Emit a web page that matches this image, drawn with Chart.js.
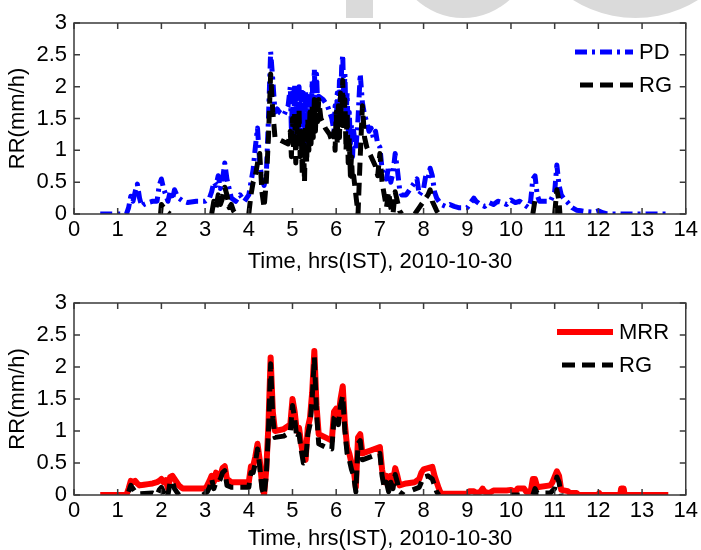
<!DOCTYPE html>
<html>
<head>
<meta charset="utf-8">
<script src="https://cdn.jsdelivr.net/npm/chart.js@4.4.1/dist/chart.umd.min.js"></script>
<style>
  body { margin: 0; background: #fff; }
  #page { position: relative; width: 701px; height: 550px; overflow: hidden; }
  .mark { position: absolute; background: #dadada; }
  .panel { position: absolute; left: 0; width: 701px; height: 275px; }
</style>
</head>
<body>
<div id="page">
  <!-- faint watermark shapes at the top edge -->
  <div class="mark" style="left:346px;top:0;width:27px;height:18px"></div>
  <div class="mark" style="left:394px;top:-120px;width:138px;height:138px;border-radius:50%"></div>
  <div class="mark" style="left:518px;top:-217px;width:235px;height:235px;border-radius:50%"></div>
  <div class="panel" style="top:0"><canvas id="topChart" width="701" height="275"></canvas></div>
  <div class="panel" style="top:275px"><canvas id="bottomChart" width="701" height="275"></canvas></div>
</div>
<script>
// --- 1. Data (time in hrs IST, rain rate in mm/h) ---
const xTitle = "Time, hrs(IST), 2010-10-30";
const yTitle = "RR(mm/h)";

// top panel: PD
const pdTime = [
  0.6,1.2,1.25,1.3,1.35,1.4,1.45,1.5,1.55,1.6,
  1.7,1.8,1.9,1.95,2.0,2.05,2.1,2.15,2.2,2.25,
  2.3,2.35,2.4,2.5,2.6,2.8,3.0,3.1,3.15,3.2,
  3.25,3.3,3.35,3.4,3.45,3.5,3.55,3.6,3.7,3.8,
  3.9,4.0,4.05,4.1,4.15,4.2,4.25,4.3,4.35,4.4,
  4.45,4.5,4.55,4.6,4.65,4.7,4.8,4.9,
  4.95,4.975,5.0,5.025,5.05,5.075,5.1,5.125,5.15,5.175,
  5.2,5.225,5.25,5.275,5.3,5.325,5.35,5.375,5.4,5.425,
  5.45,5.475,5.5,5.525,5.55,5.575,5.6,
  5.7,5.8,5.9,
  5.95,5.975,6.0,6.025,6.05,6.075,6.1,6.125,6.15,6.175,
  6.2,6.225,6.25,6.275,6.3,6.325,6.35,6.375,6.4,
  6.45,6.5,6.55,6.6,6.65,
  6.7,6.75,6.8,6.85,6.9,6.95,7.0,7.05,7.1,7.15,
  7.2,7.25,7.3,7.35,7.4,7.45,7.5,7.6,7.7,7.8,
  7.85,7.9,8.0,8.05,8.1,8.15,8.2,8.25,8.3,8.35,
  8.4,8.5,8.6,8.7,8.8,9.0,9.05,9.1,9.15,9.2,
  9.3,9.4,9.5,9.6,9.7,9.8,9.9,10.0,10.1,10.2,
  10.3,10.4,10.45,10.5,10.55,10.6,10.65,10.8,10.9,11.0,
  11.05,11.1,11.15,11.2,11.3,11.4,11.5,11.6,11.7,11.9,
  12.0,12.1,12.2,12.5,13.0,13.6
];
const pdRate = [
  0,0,0.1,0.28,0.2,0.35,0.47,0.25,0.12,0.15,
  0.18,0.2,0.2,0.45,0.55,0.4,0.3,0.2,0.35,0.22,
  0.38,0.3,0.25,0.2,0.18,0.2,0.2,0.25,0.35,0.5,
  0.45,0.6,0.4,0.55,0.8,0.55,0.4,0.25,0.2,0.3,
  0.2,0.3,0.5,0.7,1.05,1.35,0.8,0.55,0.45,0.6,
  1.5,2.55,2.1,1.6,1.65,1.6,1.55,1.7,
  2.0,1.3,1.9,1.1,2.05,1.5,1.95,1.2,2.0,1.6,
  1.95,1.3,1.9,1.0,1.95,1.2,1.85,1.1,1.8,1.4,
  2.1,1.6,2.28,1.7,2.2,1.75,1.85,
  1.8,1.7,1.5,
  1.3,1.7,1.4,1.9,1.5,2.1,1.6,2.3,2.5,1.8,
  2.2,1.5,1.9,1.3,1.6,1.1,1.4,0.9,1.3,
  1.0,1.5,2.2,1.75,1.55,
  1.45,1.3,1.35,1.2,1.3,1.1,1.05,0.7,0.6,0.55,
  0.75,0.5,0.65,0.95,0.7,0.4,0.3,0.3,0.4,0.5,
  0.55,0.3,0.4,0.6,0.55,0.72,0.6,0.35,0.25,0.2,
  0.15,0.12,0.15,0.12,0.1,0.1,0.15,0.2,0.25,0.2,
  0.15,0.12,0.18,0.15,0.2,0.18,0.15,0.22,0.18,0.2,
  0.15,0.1,0.2,0.55,0.6,0.3,0.2,0.2,0.2,0.35,
  0.77,0.45,0.3,0.25,0.18,0.1,0.06,0.05,0.04,0.03,
  0.05,0.02,0,0,0,0
];

// top panel: RG (null = no gauge trace drawn)
const rgTopTime = [
  0.6,1.95,1.98,2.0,2.05,2.1,2.2,2.25,3.1,3.15,
  3.2,3.25,3.3,3.35,3.4,3.45,3.5,3.55,3.6,3.65,
  3.7,3.8,4.0,4.05,4.1,4.15,4.2,4.25,4.3,4.35,
  4.4,4.45,4.5,4.55,4.6,4.75,4.9,
  4.95,4.975,5.0,5.025,5.05,5.075,5.1,5.125,5.15,5.175,
  5.2,5.225,5.25,5.275,5.3,5.325,5.35,5.375,5.4,5.425,
  5.45,5.475,5.5,5.525,5.55,5.575,5.6,
  5.65,5.75,5.85,5.9,
  5.95,5.975,6.0,6.025,6.05,6.075,6.1,6.125,6.15,6.175,
  6.2,6.225,6.25,6.275,6.3,6.325,6.35,6.375,6.4,
  6.45,6.5,6.55,6.6,6.65,
  6.7,6.8,6.9,6.95,7.0,7.05,7.1,7.15,7.2,7.25,
  7.3,7.35,7.4,7.45,7.5,7.6,7.8,7.9,8.0,8.1,
  8.15,8.2,8.3,8.35,8.4,10.5,10.55,10.6,10.65,11.0,
  11.05,11.1,11.12,11.2
];
const rgTopRate = [
  null,null,0,0.15,0.1,0.05,0,null,null,0,
  0.2,0.1,0.3,0.15,0.25,0.42,0.3,0.1,0.15,0.05,
  0,null,0,0.3,0.5,0.6,0.8,0.95,0.35,0.1,
  0.5,1.2,2.2,1.6,1.2,1.15,1.1,
  1.3,0.9,1.5,1.0,1.6,0.8,1.4,1.1,1.65,0.9,
  1.3,0.6,1.2,0.5,1.4,0.8,1.5,1.0,1.6,1.1,
  1.7,1.2,1.8,1.3,1.75,1.45,1.8,
  1.5,1.35,1.25,1.15,
  1.3,1.0,1.6,1.1,1.7,1.2,1.9,1.4,2.1,1.3,
  1.8,1.0,1.6,0.8,1.2,0.6,0.9,0.5,0.6,
  0.3,0,0.9,1.7,1.2,
  1.05,0.9,0.75,0.6,0.95,0.5,0.3,0.1,0.35,0.1,
  0,0.35,0.2,0.05,0,null,0,0.1,0.2,0.3,
  0.38,0.2,0.05,0,null,0,0.22,0.15,null,0,
  0.38,0.2,0,null
];

// bottom panel: MRR
const mrrTime = [
  0.6,1.2,1.25,1.3,1.35,1.4,1.45,1.5,1.6,1.7,
  1.8,1.9,1.95,2.0,2.05,2.1,2.15,2.2,2.25,2.3,
  2.35,2.4,2.45,2.5,3.0,3.05,3.1,3.15,3.2,3.25,
  3.3,3.35,3.4,3.45,3.5,3.6,3.8,4.0,4.05,4.1,
  4.15,4.2,4.25,4.3,4.35,4.4,4.45,4.5,4.55,4.6,
  4.8,4.95,5.0,5.05,5.1,5.15,5.2,5.25,5.3,5.35,
  5.4,5.45,5.5,5.55,5.6,5.75,5.9,5.95,6.0,6.05,
  6.1,6.15,6.2,6.25,6.3,6.35,6.4,6.45,6.5,6.55,
  6.6,6.8,7.0,7.05,7.1,7.15,7.2,7.25,7.3,7.35,
  7.4,7.45,7.6,7.8,7.9,7.95,8.0,8.1,8.2,8.25,
  8.35,8.4,9.0,9.05,9.15,9.2,9.3,9.35,9.4,9.5,
  9.6,9.9,10.0,10.1,10.15,10.3,10.35,10.45,10.5,10.55,
  10.6,10.9,10.95,11.05,11.1,11.15,11.3,11.35,11.5,11.55,
  12.0,12.02,12.05,12.5,12.52,12.58,12.6,13.6
];
const mrrRate = [
  0,0,0.1,0.22,0.2,0.22,0.18,0.15,0.16,0.17,
  0.18,0.2,0.22,0.25,0.2,0.23,0.1,0.28,0.3,0.25,
  0.2,0.15,0.12,0.1,0.1,0.15,0.22,0.3,0.2,0.35,
  0.25,0.3,0.42,0.45,0.25,0.2,0.2,0.2,0.45,0.45,
  0.6,0.8,0.55,0.2,0,0.4,1.1,2.15,1.3,1.0,
  1.03,1.1,1.5,1.3,1.0,1.05,0.8,0.6,0.55,1.05,
  1.2,1.6,2.25,1.4,0.95,0.9,0.85,1.3,1.35,1.2,
  1.5,1.7,1.1,0.75,0.65,0.5,0.4,0.12,0.9,0.95,
  0.65,0.7,0.75,0.4,0.2,0.3,0.15,0.3,0.2,0.42,
  0.3,0.15,0.18,0.2,0.25,0.35,0.4,0.42,0.44,0.3,
  0.1,0.02,0.02,0.06,0.06,0.03,0.05,0.1,0.05,0.03,
  0.07,0.07,0.08,0.04,0.1,0.1,0.05,0.05,0.25,0.25,
  0.12,0.15,0.2,0.37,0.3,0.08,0.06,0.03,0.03,0,
  0,0.03,0,0,0.1,0.1,0,0
];

// bottom panel: RG
const rgBotTime = [
  1.25,1.3,1.35,1.4,1.5,1.8,1.9,1.95,2.0,2.05,
  2.1,2.15,2.2,2.25,2.3,2.35,2.4,2.5,2.95,3.05,
  3.1,3.15,3.2,3.25,3.3,3.35,3.4,3.45,3.5,3.6,
  4.0,4.05,4.1,4.15,4.2,4.25,4.3,4.35,4.4,4.45,
  4.5,4.55,4.6,4.8,4.95,5.0,5.05,5.1,5.15,5.2,
  5.25,5.3,5.35,5.4,5.45,5.5,5.55,5.6,5.75,5.9,
  5.95,6.0,6.05,6.1,6.15,6.2,6.25,6.3,6.35,6.4,
  6.45,6.5,6.55,6.6,6.8,7.0,7.05,7.1,7.15,7.2,
  7.25,7.3,7.35,7.4,7.45,7.55,7.6,7.75,7.9,7.95,
  8.0,8.1,8.2,8.25,8.3,8.35,8.4,10.0,10.2,10.3,
  10.5,10.55,10.6,10.9,11.0,11.05,11.1,11.15,11.2
];
const rgBotRate = [
  0.05,0.15,0.1,0.05,0.02,0.03,0,0.08,0.12,0.05,
  0.1,0,0.2,0.22,0.1,0.05,0,null,0,0.05,
  0.12,0.25,0.1,0.2,0.2,0.25,0.35,0.38,0.15,0.12,
  0.12,0.35,0.35,0.5,0.72,0.45,0.1,0,0.3,1.0,
  2.05,1.2,0.9,0.92,0.98,1.4,1.2,0.88,0.95,0.7,
  0.5,0.52,0.95,1.1,1.5,2.15,1.3,0.8,0.75,0.72,
  1.2,1.25,1.1,1.4,1.55,1.0,0.65,0.55,0.4,0.3,
  0.05,0.8,0.85,0.55,0.6,0.65,0.3,0.12,0.2,0.05,
  0.2,0.1,0.32,0.2,0.05,0,null,0.08,0.12,0.2,
  0.28,0.3,0.25,0.15,0.05,0,null,0,0,null,
  0,0.1,0.03,0.03,0.1,0.28,0.2,0,null
];

// --- 2. Helpers ---
const FONT = "'Liberation Sans', Arial, sans-serif";
Chart.defaults.font.family = FONT;
Chart.defaults.color = "#000";

const toPoints = (xs, ys) => xs.map((t, i) => ({ x: t, y: ys[i] }));

// frame on all four sides with inward ticks (MATLAB style box)
const boxTicks = {
  id: "boxTicks",
  afterDraw(chart) {
    const { ctx, chartArea: a, scales } = chart;
    ctx.save();
    ctx.strokeStyle = "#3a3a3a";
    ctx.lineWidth = 1.5;
    ctx.strokeRect(a.left, a.top, a.right - a.left, a.bottom - a.top);
    ctx.beginPath();
    scales.x.ticks.forEach(t => {
      const px = scales.x.getPixelForValue(t.value);
      ctx.moveTo(px, a.bottom); ctx.lineTo(px, a.bottom - 6);
      ctx.moveTo(px, a.top); ctx.lineTo(px, a.top + 6);
    });
    scales.y.ticks.forEach(t => {
      const py = scales.y.getPixelForValue(t.value);
      ctx.moveTo(a.left, py); ctx.lineTo(a.left + 6, py);
      ctx.moveTo(a.right, py); ctx.lineTo(a.right - 6, py);
    });
    ctx.stroke();
    ctx.restore();
  }
};

// legend drawn inside the plot box, upper right
const boxLegend = {
  id: "boxLegend",
  afterDraw(chart, args, opts) {
    const ctx = chart.ctx;
    ctx.save();
    ctx.font = "22px " + FONT;
    ctx.textBaseline = "middle";
    ctx.fillStyle = "#000";
    (opts.items || []).forEach(it => {
      ctx.strokeStyle = it.color;
      ctx.lineWidth = it.width;
      ctx.setLineDash(it.dash);
      ctx.beginPath();
      ctx.moveTo(it.x1, it.y);
      ctx.lineTo(it.x2, it.y);
      ctx.stroke();
      ctx.setLineDash([]);
      ctx.fillText(it.label, it.tx, it.y + 1);
    });
    ctx.restore();
  }
};

function buildOptions(padTop, xHeight, titlePad, legendItems) {
  return {
    responsive: false,
    animation: false,
    devicePixelRatio: 1,
    layout: { padding: { top: padTop, right: 13, left: 0, bottom: 0 } },
    plugins: {
      legend: { display: false },
      tooltip: { enabled: false },
      boxLegend: { items: legendItems }
    },
    elements: {
      point: { radius: 0 },
      line: { tension: 0, borderJoinStyle: "round", borderCapStyle: "butt" }
    },
    scales: {
      x: {
        type: "linear", min: 0, max: 14,
        grid: { display: false, drawTicks: false }, border: { display: false },
        ticks: { stepSize: 1, autoSkip: false, maxRotation: 0, padding: 3, font: { size: 22 } },
        title: { display: true, text: xTitle, font: { size: 22, lineHeight: 1 }, padding: { top: 0, bottom: titlePad } },
        afterFit: s => { s.height = xHeight; }
      },
      y: {
        min: 0, max: 3,
        grid: { display: false, drawTicks: false }, border: { display: false },
        ticks: { stepSize: 0.5, autoSkip: false, padding: 7, font: { size: 22 }, callback: v => String(v) },
        title: { display: true, text: yTitle, font: { size: 22, lineHeight: 1 }, padding: { top: 7, bottom: 0 } },
        afterFit: s => { s.width = 74; }
      }
    }
  };
}

// --- 3. Charts ---
const dashDot = [12, 5, 3, 5];
const dashed = [13, 7];

new Chart(document.getElementById("topChart"), {
  type: "line",
  data: {
    datasets: [
      { label: "RG", data: toPoints(rgTopTime, rgTopRate), borderColor: "#000", borderWidth: 5, borderDash: dashed, spanGaps: false },
      { label: "PD", data: toPoints(pdTime, pdRate), borderColor: "#0000ff", borderWidth: 5, borderDash: dashDot, spanGaps: false }
    ]
  },
  options: buildOptions(23, 61, 2, [
    { label: "PD", color: "#0000ff", width: 5, dash: dashDot, x1: 575, x2: 633, y: 52, tx: 639 },
    { label: "RG", color: "#000", width: 5, dash: dashed, x1: 580, x2: 633, y: 85, tx: 639 }
  ]),
  plugins: [boxTicks, boxLegend]
});

new Chart(document.getElementById("bottomChart"), {
  type: "line",
  data: {
    datasets: [
      { label: "RG", data: toPoints(rgBotTime, rgBotRate), borderColor: "#000", borderWidth: 5, borderDash: dashed, spanGaps: false },
      { label: "MRR", data: toPoints(mrrTime, mrrRate), borderColor: "#ff0000", borderWidth: 6, spanGaps: false }
    ]
  },
  options: buildOptions(28, 55, 0, [
    { label: "MRR", color: "#ff0000", width: 6, dash: [], x1: 557, x2: 613, y: 57, tx: 619 },
    { label: "RG", color: "#000", width: 5, dash: dashed, x1: 562, x2: 613, y: 90, tx: 619 }
  ]),
  plugins: [boxTicks, boxLegend]
});
</script>
</body>
</html>
